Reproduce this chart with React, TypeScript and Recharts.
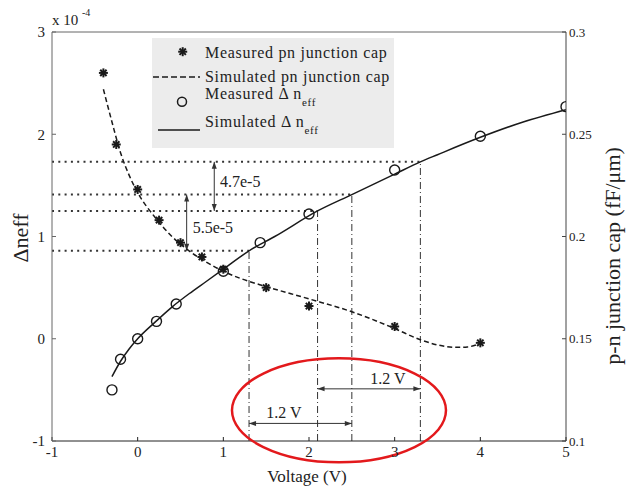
import { ComposedChart, Line, Scatter, XAxis, YAxis, ReferenceLine, ReferenceDot } from "recharts";

const voltageTicks = [-1, 0, 1, 2, 3, 4, 5];
const neffTicks = [-1, 0, 1, 2, 3];
const capTicks = [0.1, 0.15, 0.2, 0.25, 0.3];

// pn junction capacitance, fF/um (right axis)
const measuredCap = [
  { x: -0.4, y: 0.28 },
  { x: -0.25, y: 0.245 },
  { x: 0, y: 0.223 },
  { x: 0.25, y: 0.208 },
  { x: 0.5, y: 0.197 },
  { x: 0.75, y: 0.19 },
  { x: 1, y: 0.184 },
  { x: 1.5, y: 0.175 },
  { x: 2, y: 0.166 },
  { x: 3, y: 0.156 },
  { x: 4, y: 0.148 },
];

const simulatedCap = [
  { x: -0.4, y: 0.272 },
  { x: -0.3, y: 0.256 },
  { x: -0.2, y: 0.241 },
  { x: -0.1, y: 0.23 },
  { x: 0, y: 0.2215 },
  { x: 0.2, y: 0.2095 },
  { x: 0.4, y: 0.2 },
  { x: 0.6, y: 0.193 },
  { x: 0.8, y: 0.1875 },
  { x: 1.0, y: 0.183 },
  { x: 1.2, y: 0.1795 },
  { x: 1.5, y: 0.1755 },
  { x: 2.0, y: 0.1695 },
  { x: 2.5, y: 0.1632 },
  { x: 3.0, y: 0.155 },
  { x: 3.3, y: 0.1495 },
  { x: 3.5, y: 0.147 },
  { x: 3.7, y: 0.1458 },
  { x: 3.85, y: 0.146 },
  { x: 4.0, y: 0.1478 },
];

// delta n_eff, x 1e-4 (left axis)
const measuredNeff = [
  { x: -0.3, y: -0.5 },
  { x: -0.2, y: -0.2 },
  { x: 0, y: 0 },
  { x: 0.22, y: 0.17 },
  { x: 0.45, y: 0.34 },
  { x: 1, y: 0.66 },
  { x: 1.43, y: 0.94 },
  { x: 2, y: 1.22 },
  { x: 3, y: 1.65 },
  { x: 4, y: 1.98 },
  { x: 5, y: 2.27 },
];

const simulatedNeff = [
  { x: -0.3, y: -0.37 },
  { x: -0.2, y: -0.22 },
  { x: -0.1, y: -0.1 },
  { x: 0, y: 0 },
  { x: 0.2, y: 0.16 },
  { x: 0.4, y: 0.31 },
  { x: 0.6, y: 0.44 },
  { x: 0.8, y: 0.56 },
  { x: 1.0, y: 0.68 },
  { x: 1.3, y: 0.86 },
  { x: 1.6, y: 1.0 },
  { x: 2.1, y: 1.25 },
  { x: 2.5, y: 1.41 },
  { x: 3.0, y: 1.61 },
  { x: 3.3, y: 1.73 },
  { x: 3.5, y: 1.8 },
  { x: 4.0, y: 1.97 },
  { x: 4.5, y: 2.12 },
  { x: 5.0, y: 2.24 },
];

// dotted guides: neff level and the voltage where the curve reaches it
const guideLevels = [0.86, 1.25, 1.41, 1.73];
const guideVoltages = [1.3, 2.1, 2.5, 3.3];

const ink = "#1a1a1a";
const serif = "Liberation Serif";

function Circle(p: any) {
  return <circle cx={p.cx} cy={p.cy} r={5} fill="none" stroke={ink} strokeWidth={1.4} />;
}

function Star(p: any) {
  const r = 4.5;
  return (
    <g stroke={ink} strokeWidth={2}>
      {[0, 45, 90, 135].map((a) => {
        const dx = r * Math.cos((a * Math.PI) / 180);
        const dy = r * Math.sin((a * Math.PI) / 180);
        return <line key={a} x1={p.cx - dx} y1={p.cy - dy} x2={p.cx + dx} y2={p.cy + dy} />;
      })}
    </g>
  );
}

// double headed arrow drawn between the segment ends
function Arrow(p: any) {
  const { x1, y1, x2, y2 } = p;
  const len = Math.hypot(x2 - x1, y2 - y1) || 1;
  const ux = (x2 - x1) / len;
  const uy = (y2 - y1) / len;
  const h = 7;
  const w = 2.5;
  const head = (tx: number, ty: number, d: number) =>
    `${tx},${ty} ${tx - d * ux * h + uy * w},${ty - d * uy * h - ux * w} ${tx - d * ux * h - uy * w},${ty - d * uy * h + ux * w}`;
  return (
    <g>
      <line x1={x1} y1={y1} x2={x2} y2={y2} stroke="#333" strokeWidth={1} />
      <polygon points={head(x2, y2, 1)} fill="#333" />
      <polygon points={head(x1, y1, -1)} fill="#333" />
    </g>
  );
}

const note = (text: string, anchor: "start" | "middle") => (p: any) =>
  (
    <text x={p.cx} y={p.cy} textAnchor={anchor} dominantBaseline="central" style={{ fontFamily: serif }} fontSize={16} fill="#222">
      {text}
    </text>
  );

function Ellipse(p: any) {
  return <ellipse cx={p.cx} cy={p.cy} rx={107} ry={52} fill="none" stroke="#e3191c" strokeWidth={2.5} />;
}

export default function App() {
  const tickStyle = { fontFamily: serif, fontSize: 15, fill: "#222" };
  return (
    <div style={{ position: "absolute", left: 0, top: 0, width: 641, height: 488, background: "#fff", fontFamily: serif }}>
      <ComposedChart width={641} height={488} margin={{ top: 12, right: 25, bottom: 17, left: 2 }} style={{ fontFamily: serif }}>
        <XAxis
          type="number"
          dataKey="x"
          domain={[-1, 5]}
          ticks={voltageTicks}
          allowDataOverflow
          height={30}
          tickSize={-4}
          tickMargin={9}
          tick={tickStyle}
          stroke="#222"
        />
        <XAxis
          xAxisId="top"
          orientation="top"
          type="number"
          domain={[-1, 5]}
          ticks={voltageTicks}
          height={20}
          tickSize={-4}
          tick={false}
          stroke="#666"
        />
        <YAxis
          type="number"
          dataKey="y"
          domain={[-1, 3]}
          ticks={neffTicks}
          allowDataOverflow
          width={50}
          tickSize={-4}
          tickMargin={11}
          tick={tickStyle}
          stroke="#666"
        />
        <YAxis
          yAxisId="cap"
          orientation="right"
          type="number"
          dataKey="y"
          domain={[0.1, 0.3]}
          ticks={capTicks}
          allowDataOverflow
          width={50}
          tickSize={-4}
          tickMargin={7}
          tick={{ ...tickStyle, fontSize: 13 }}
          stroke="#444"
        />

        {guideLevels.map((lvl, i) => (
          <ReferenceLine
            key={"h" + i}
            segment={[{ x: -1, y: lvl }, { x: guideVoltages[i], y: lvl }]}
            stroke="#333"
            strokeWidth={2}
            strokeDasharray="2 4.3"
          />
        ))}
        {guideLevels.map((lvl, i) => (
          <ReferenceLine
            key={"v" + i}
            segment={[{ x: guideVoltages[i], y: -1 }, { x: guideVoltages[i], y: lvl }]}
            stroke="#333"
            strokeWidth={1}
            strokeDasharray="7 3 1 3"
          />
        ))}

        <ReferenceLine segment={[{ x: 0.894, y: 1.73 }, { x: 0.894, y: 1.25 }]} shape={Arrow} />
        <ReferenceLine segment={[{ x: 0.572, y: 1.41 }, { x: 0.572, y: 0.86 }]} shape={Arrow} />
        <ReferenceLine segment={[{ x: 1.3, y: -0.828 }, { x: 2.5, y: -0.828 }]} shape={Arrow} />
        <ReferenceLine segment={[{ x: 2.1, y: -0.49 }, { x: 3.3, y: -0.49 }]} shape={Arrow} />

        <ReferenceDot x={0.961} y={1.536} r={0} shape={note("4.7e-5", "start")} />
        <ReferenceDot x={0.642} y={1.09} r={0} shape={note("5.5e-5", "start")} />
        <ReferenceDot x={1.708} y={-0.723} r={0} shape={note("1.2 V", "middle")} />
        <ReferenceDot x={2.92} y={-0.387} r={0} shape={note("1.2 V", "middle")} />

        <Line
          yAxisId="cap"
          data={simulatedCap}
          dataKey="y"
          type="monotone"
          stroke={ink}
          strokeWidth={1.5}
          strokeDasharray="5 3"
          dot={false}
          isAnimationActive={false}
        />
        <Line
          data={simulatedNeff}
          dataKey="y"
          type="monotone"
          stroke={ink}
          strokeWidth={1.5}
          dot={false}
          isAnimationActive={false}
        />
        <Scatter yAxisId="cap" data={measuredCap} dataKey="y" shape={Star} isAnimationActive={false} />
        <Scatter data={measuredNeff} dataKey="y" shape={Circle} isAnimationActive={false} />

        <ReferenceDot x={2.35} y={-0.7} r={0} ifOverflow="visible" shape={Ellipse} />
      </ComposedChart>

      <svg width={641} height={488} style={{ position: "absolute", left: 0, top: 0, pointerEvents: "none", fontFamily: serif }}>
        <text x={52} y={25} fontSize={15} fill="#222">x 10</text>
        <text x={82} y={16} fontSize={10} fill="#222">-4</text>
        <text transform="rotate(-90 28 238)" x={28} y={238} textAnchor="middle" fontSize={22} fill="#222">
          Δneff
        </text>
        <text transform="rotate(-90 620 256)" x={620} y={256} textAnchor="middle" fontSize={22} fill="#222">
          p-n junction cap (fF/μm)
        </text>
        <text x={307} y={482} textAnchor="middle" fontSize={17} fill="#222">
          Voltage (V)
        </text>

        <g fontSize={16} fill="#222" letterSpacing={0.7}>
          <rect x={152} y={38} width={242} height={110} fill="#ececec" />
          <Star cx={182.7} cy={51.7} />
          <text x={205} y={57.5}>Measured pn junction cap</text>
          <line x1={153} y1={77} x2={200} y2={77} stroke={ink} strokeWidth={1.5} strokeDasharray="6 3" />
          <text x={205} y={82}>Simulated pn junction cap</text>
          <circle cx={182} cy={101.7} r={4.5} fill="none" stroke={ink} strokeWidth={1.5} />
          <text x={205} y={99}>
            Measured Δ n<tspan fontSize={11} dy={7}>eff</tspan>
          </text>
          <line x1={158} y1={130} x2={200} y2={130} stroke={ink} strokeWidth={1.5} />
          <text x={205} y={126.5}>
            Simulated Δ n<tspan fontSize={11} dy={7}>eff</tspan>
          </text>
        </g>
      </svg>
    </div>
  );
}
